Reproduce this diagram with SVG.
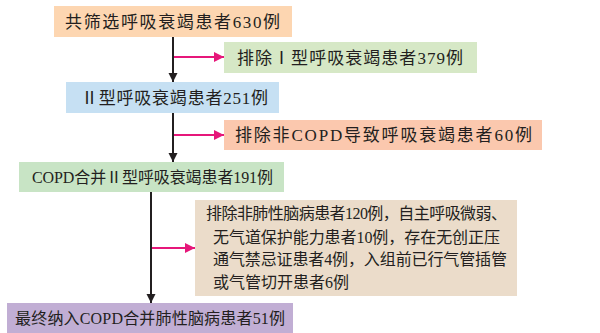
<svg xmlns="http://www.w3.org/2000/svg" width="600" height="333" viewBox="0 0 600 333">
<defs>
<marker id="ab" viewBox="0 0 10 10" refX="10" refY="5" markerWidth="4.5" markerHeight="6" markerUnits="strokeWidth" orient="auto"><path d="M0,0 L10,5 L0,10 Z" fill="#231f20"/></marker>
<marker id="ap" viewBox="0 0 10 10" refX="10" refY="5" markerWidth="7" markerHeight="5" markerUnits="strokeWidth" orient="auto"><path d="M0,0 L10,5 L0,10 Z" fill="#e6177a"/></marker>
</defs>
<style>
text{font-family:"Liberation Serif","Noto Sans CJK SC",serif;fill:#231f20;font-size:17px}
.s{font-size:16px}
.k{stroke:#231f20;stroke-width:2;fill:none}
.p{stroke:#e6177a;stroke-width:2;fill:none}
</style>
<rect width="600" height="333" fill="#fff"/>
<g id="connectors">
<line class="k" x1="173" y1="37" x2="173" y2="82" marker-end="url(#ab)"/>
<line class="k" x1="173" y1="113" x2="173" y2="162" marker-end="url(#ab)"/>
<line class="k" x1="151" y1="192" x2="151" y2="303" marker-end="url(#ab)"/>
<line class="p" x1="174" y1="57" x2="224" y2="57" marker-end="url(#ap)"/>
<line class="p" x1="174" y1="135" x2="224" y2="135" marker-end="url(#ap)"/>
<line class="p" x1="152" y1="248" x2="195" y2="248" marker-end="url(#ap)"/>
</g>
<g id="n1"><rect x="54" y="6" width="238" height="31" fill="#fdd6b1"/><text x="172.5" y="27.5" text-anchor="middle" textLength="215" lengthAdjust="spacing">共筛选呼吸衰竭患者630例</text></g>
<g id="n2"><rect x="224" y="42" width="253" height="31" fill="#d6e8c6"/><text x="350" y="63.5" text-anchor="middle" textLength="226" lengthAdjust="spacing">排除Ⅰ型呼吸衰竭患者379例</text></g>
<g id="n3"><rect x="66" y="82" width="213" height="31" fill="#c6e0f3"/><text x="174.5" y="103.5" text-anchor="middle" textLength="187" lengthAdjust="spacing">Ⅱ型呼吸衰竭患者251例</text></g>
<g id="n4"><rect x="224" y="120" width="318" height="30" fill="#fbc8ae"/><text x="383.5" y="141" text-anchor="middle" textLength="297" lengthAdjust="spacing">排除非COPD导致呼吸衰竭患者60例</text></g>
<g id="n5"><rect x="19" y="162" width="265" height="30" fill="#c8e4c5"/><text class="s" x="152.5" y="183" text-anchor="middle" textLength="241" lengthAdjust="spacing">COPD合并Ⅱ型呼吸衰竭患者191例</text></g>
<g id="n6"><rect x="195" y="200" width="322" height="96" fill="#ebdcca"/>
<text class="s" x="206" y="219" textLength="301" lengthAdjust="spacing">排除非肺性脑病患者120例，自主呼吸微弱、</text>
<text class="s" x="213" y="243" textLength="287" lengthAdjust="spacing">无气道保护能力患者10例，存在无创正压</text>
<text class="s" x="213" y="265" textLength="294" lengthAdjust="spacing">通气禁忌证患者4例，入组前已行气管插管</text>
<text class="s" x="213" y="288">或气管切开患者6例</text></g>
<g id="n7"><rect x="7" y="303" width="286" height="30" fill="#c1aed4"/><text class="s" x="150" y="324" text-anchor="middle" textLength="270" lengthAdjust="spacing">最终纳入COPD合并肺性脑病患者51例</text></g>
</svg>
